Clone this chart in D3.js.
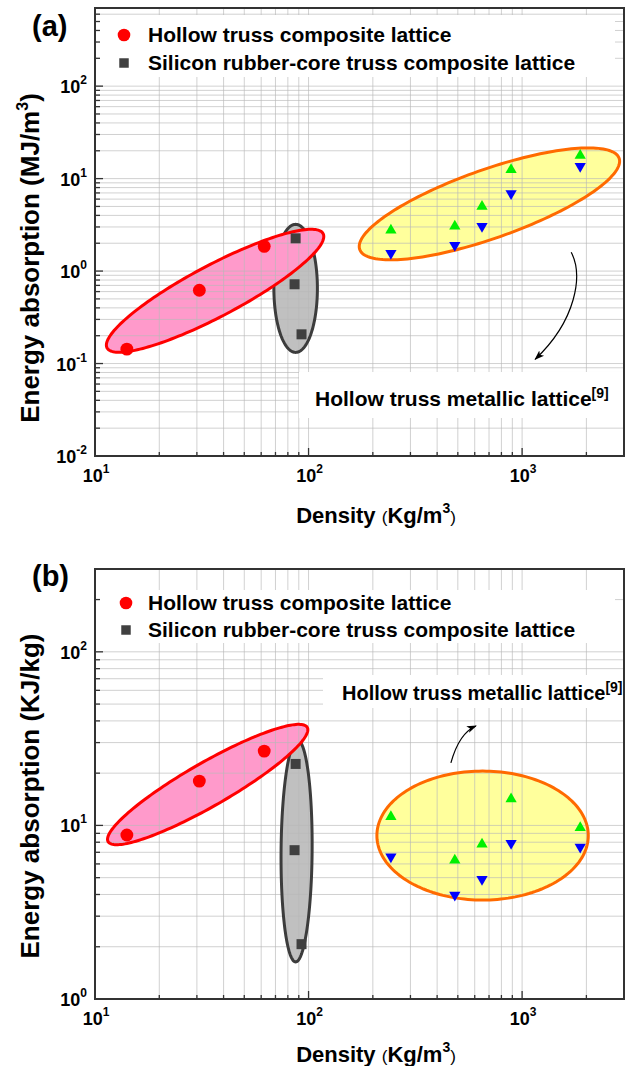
<!DOCTYPE html>
<html>
<head>
<meta charset="utf-8">
<script src="https://cdn.jsdelivr.net/npm/d3@7"></script>
<style>
  body { margin: 0; background: #fff; }
  text { font-family: "Liberation Sans", Arial, sans-serif; font-weight: bold; fill: #000; }
</style>
</head>
<body>
<svg id="fig" width="629" height="1066"></svg>
<script>
// ---- data -------------------------------------------------------------
// density (kg/m^3)
const hollowDensity = [14.1, 30.8, 62];
const rubberDensity = [87, 86, 92.7];
const metalDensity  = [243, 484, 649, 888, 1871];

// (a) energy absorption per volume (MJ/m^3)
const hollowEV    = [0.143, 0.62, 1.85];
const rubberEV    = [2.26, 0.72, 0.207];
const metalEVHigh = [2.76, 3.05, 5.0, 12.5, 17.8];
const metalEVLow  = [1.56, 1.90, 3.05, 6.9, 13.6];

// (b) energy absorption per mass (KJ/kg)
const hollowES    = [8.8, 18.0, 26.8];
const rubberES    = [22.6, 7.2, 2.07];
const metalESHigh = [11.2, 6.3, 7.8, 14.2, 9.7];
const metalESLow  = [6.6, 3.97, 4.9, 7.9, 7.5];

// axis ticks: value and exponent label (10^n)
const xTickValues = [10, 100, 1000];
const xTickExp    = ["1", "2", "3"];
const yTickValuesA = [0.01, 0.1, 1, 10, 100];
const yTickExpA    = ["-2", "-1", "0", "1", "2"];
const yTickValuesB = [1, 10, 100];
const yTickExpB    = ["0", "1", "2"];

// group envelopes: centre and end of the long axis (data units), width ratio
const envelopesA = [
  { group: "rubber", center: [87, 0.65],  end: [87, 3.2],    ratio: 0.34 },
  { group: "hollow", center: [36.5, 0.612], end: [117, 2.54], ratio: 0.21 },
  { group: "metal",  center: [703, 5.33], end: [2846, 16.6], ratio: 0.25 }
];
const envelopesB = [
  { group: "rubber", center: [87.9, 7.12], end: [88.8, 31.0], ratio: 0.14 },
  { group: "hollow", center: [33.7, 17.2], end: [98.6, 36.7], ratio: 0.19 },
  { group: "metal",  center: [653, 8.74],  end: [2041, 8.74], ratio: 0.61 }
];

// curved pointers to the metallic-lattice label (cubic Bezier, data units)
const arrowA = [[1698, 1.6], [1932, 0.90], [1795, 0.294], [1151, 0.111]];
const arrowB = [[464, 22.9], [492, 29.8], [538, 35.1], [608, 37.4]];

const legendLabels = ["Hollow truss composite lattice", "Silicon rubber-core truss composite lattice"];
const metalLabel = "Hollow truss metallic lattice";
const metalRef = "[9]";

// ---- styles -------------------------------------------------------------
const envelopeStyle = {
  rubber: { fill: "#c0c0c0", stroke: "#3c3c3c", width: 3 },
  hollow: { fill: "#ff9acb", stroke: "#ff0000", width: 3 },
  metal:  { fill: "#ffff9c", stroke: "#ff6a00", width: 3 }
};

const svg = d3.select("#fig");
const defs = svg.append("defs");
defs.append("marker")
  .attr("id", "arrowhead")
  .attr("viewBox", "0 0 10 10")
  .attr("refX", 9).attr("refY", 5)
  .attr("markerWidth", 10).attr("markerHeight", 10)
  .attr("markerUnits", "userSpaceOnUse")
  .attr("orient", "auto")
  .append("path")
  .attr("d", "M0,1.5 L10,5 L0,8.5 L2.5,5 Z")
  .attr("fill", "#000");

const X_LEFT = 95, X_RIGHT = 624;
const x = d3.scaleLog().domain([10, 3000]).range([X_LEFT, X_RIGHT]);

const isDecade = v => Math.abs(Math.log10(v) - Math.round(Math.log10(v))) < 1e-9;

function ellipsePoints(cx, cy, a, b, ang) {
  const ca = Math.cos(ang), sa = Math.sin(ang);
  return d3.range(0, 2 * Math.PI, Math.PI / 90).map(t => {
    const u = a * Math.cos(t), v = b * Math.sin(t);
    return [cx + u * ca - v * sa, cy + u * sa + v * ca];
  });
}
const closedLine = d3.line().curve(d3.curveLinearClosed);

function addSup(textSel, base, sup, baseSize, supSize, rise) {
  textSel.append("tspan").attr("font-size", baseSize).text(base);
  textSel.append("tspan").attr("font-size", supSize).attr("dy", -rise).text(sup);
}

function drawPanel(p) {
  const g = svg.append("g");
  const y = d3.scaleLog().domain(p.yDomain).range([p.bottom, p.top]);
  const plotW = X_RIGHT - X_LEFT;

  // envelopes: screen geometry from data
  const env = p.envelopes.map(e => {
    const cx = x(e.center[0]), cy = y(e.center[1]);
    const ex = x(e.end[0]), ey = y(e.end[1]);
    const a = Math.hypot(ex - cx, ey - cy);
    const ang = Math.atan2(ey - cy, ex - cx);
    const pts = ellipsePoints(cx, cy, a, a * e.ratio, ang);
    return { ...e, d: closedLine(pts) };
  });

  // fills
  env.forEach(e => {
    g.append("path").attr("d", e.d).attr("fill", envelopeStyle[e.group].fill);
  });

  // grid
  const gx = x.ticks().filter(v => v > 10 && v < 3000);
  const yDom = p.yDomain;
  const gy = y.ticks().filter(v => v > yDom[0] * 1.0001 && v < yDom[1] * 0.9999);
  const grid = g.append("g").attr("stroke", "#b8b8b8").attr("stroke-opacity", 0.65).attr("stroke-width", 1);
  gx.forEach(v => grid.append("line").attr("x1", x(v)).attr("x2", x(v)).attr("y1", p.top).attr("y2", p.bottom));
  gy.forEach(v => grid.append("line").attr("x1", X_LEFT).attr("x2", X_RIGHT).attr("y1", y(v)).attr("y2", y(v)));

  // outlines (rubber outline hidden where the hollow envelope lies over it)
  const hollow = env.find(e => e.group === "hollow");
  const clipId = "clip-" + p.id;
  defs.append("clipPath").attr("id", clipId)
    .append("path")
    .attr("clip-rule", "evenodd")
    .attr("d", "M0,0H629V1066H0Z" + hollow.d);
  env.forEach(e => {
    const st = envelopeStyle[e.group];
    const path = g.append("path").attr("d", e.d).attr("fill", "none")
      .attr("stroke", st.stroke).attr("stroke-width", st.width);
    if (e.group === "rubber") path.attr("clip-path", `url(#${clipId})`);
  });

  // legend box
  g.append("rect").attr("x", X_LEFT + 2).attr("y", p.legendTop)
    .attr("width", 615 - X_LEFT - 2).attr("height", p.legendH).attr("fill", "#fff");
  const lg = g.append("g");
  lg.append("path").attr("d", d3.symbol(d3.symbolCircle, 125)())
    .attr("transform", `translate(${p.legendX},${p.legendRow1})`).attr("fill", "#ff0000");
  lg.append("path").attr("d", d3.symbol(d3.symbolSquare, 90)())
    .attr("transform", `translate(${p.legendX},${p.legendRow2})`).attr("fill", "#404040");
  legendLabels.forEach((t, i) => {
    lg.append("text").attr("x", 148).attr("y", (i ? p.legendRow2 : p.legendRow1) + 7)
      .attr("font-size", p.legendSize).text(t);
  });

  // metallic lattice label
  g.append("rect").attr("x", p.labelBox[0]).attr("y", p.labelBox[1])
    .attr("width", X_RIGHT - p.labelBox[0]).attr("height", p.labelBox[2]).attr("fill", "#fff");
  const ml = g.append("text").attr("x", p.labelX).attr("y", p.labelY);
  addSup(ml, metalLabel, metalRef, p.labelSize, 14, 8);

  // pointer
  const ap = p.arrow.map(([dx, dy]) => [x(dx), y(dy)]);
  const path = d3.path();
  path.moveTo(...ap[0]);
  path.bezierCurveTo(...ap[1], ...ap[2], ...ap[3]);
  g.append("path").attr("d", path.toString()).attr("fill", "none")
    .attr("stroke", "#000").attr("stroke-width", 1.2).attr("marker-end", "url(#arrowhead)");

  // markers
  const mk = g.append("g");
  hollowDensity.forEach((d, i) => mk.append("path").attr("d", d3.symbol(d3.symbolCircle, 130)())
    .attr("transform", `translate(${x(d)},${y(p.hollow[i])})`).attr("fill", "#ff0000"));
  rubberDensity.forEach((d, i) => mk.append("path").attr("d", d3.symbol(d3.symbolSquare, 100)())
    .attr("transform", `translate(${x(d)},${y(p.rubber[i])})`).attr("fill", "#404040"));
  metalDensity.forEach((d, i) => {
    mk.append("path").attr("d", d3.symbol(d3.symbolTriangle, 55)())
      .attr("transform", `translate(${x(d)},${y(p.hi[i])})`).attr("fill", "#00f000");
    mk.append("path").attr("d", d3.symbol(d3.symbolTriangle, 55)())
      .attr("transform", `translate(${x(d)},${y(p.lo[i])}) rotate(180)`).attr("fill", "#0000ff");
  });

  // ticks
  const tk = g.append("g").attr("stroke", "#333").attr("stroke-width", 1.3);
  x.ticks().filter(v => v > 10 && v < 3000).forEach(v => {
    const L = isDecade(v) ? 8 : 4;
    tk.append("line").attr("x1", x(v)).attr("x2", x(v)).attr("y1", p.bottom).attr("y2", p.bottom - L);
  });
  gy.forEach(v => {
    const L = isDecade(v) ? 8 : 5;
    tk.append("line").attr("x1", X_LEFT).attr("x2", X_LEFT + L).attr("y1", y(v)).attr("y2", y(v));
  });

  // frame
  g.append("rect").attr("x", X_LEFT).attr("y", p.top).attr("width", plotW)
    .attr("height", p.bottom - p.top).attr("fill", "none").attr("stroke", "#333").attr("stroke-width", 2);

  // tick labels
  xTickValues.forEach((v, i) => {
    const t = g.append("text").attr("x", x(v) + 1).attr("y", p.bottom + 26).attr("text-anchor", "middle");
    addSup(t, "10", xTickExp[i], 18, 12, 9);
  });
  p.yTicks.forEach((v, i) => {
    const t = g.append("text").attr("x", 87).attr("y", y(v) + 7).attr("text-anchor", "end");
    addSup(t, "10", p.yExp[i], 18, 12, 9);
  });

  // axis titles
  const yt = g.append("text").attr("transform", `translate(39,${p.yTitleY}) rotate(-90)`)
    .attr("text-anchor", "middle").attr("font-size", 26);
  yt.append("tspan").text(p.yTitle);
  if (p.yTitleSup) {
    yt.append("tspan").attr("font-size", 16).attr("dy", -11).text(p.yTitleSup);
    yt.append("tspan").attr("dy", 11).text(")");
  }
  const xt = g.append("text").attr("x", 376).attr("y", p.xTitleY).attr("text-anchor", "middle").attr("font-size", 22);
  xt.append("tspan").text("Density ");
  xt.append("tspan").attr("font-size", 17).attr("font-weight", "normal").text("(");
  xt.append("tspan").text("Kg/m");
  xt.append("tspan").attr("font-size", 14).attr("dy", -10).text("3");
  xt.append("tspan").attr("font-size", 17).attr("font-weight", "normal").attr("dy", 10).text(")");

  // panel tag
  g.append("text").attr("x", 32).attr("y", p.tagY).attr("font-size", 29).text(p.tag);
}

drawPanel({
  id: "a", tag: "(a)", tagY: 36, top: 8, bottom: 456, yDomain: [0.01, 700],
  yTicks: yTickValuesA, yExp: yTickExpA,
  hollow: hollowEV, rubber: rubberEV, hi: metalEVHigh, lo: metalEVLow,
  envelopes: envelopesA, arrow: arrowA,
  legendTop: 15, legendH: 62, legendX: 124, legendRow1: 35, legendRow2: 63, legendSize: 21,
  labelBox: [299, 372, 46], labelX: 315, labelY: 406, labelSize: 21,
  yTitle: "Energy absorption (MJ/m", yTitleSup: "3", yTitleY: 258, xTitleY: 523
});
drawPanel({
  id: "b", tag: "(b)", tagY: 586, top: 569, bottom: 999, yDomain: [1, 300],
  yTicks: yTickValuesB, yExp: yTickExpB,
  hollow: hollowES, rubber: rubberES, hi: metalESHigh, lo: metalESLow,
  envelopes: envelopesB, arrow: arrowB,
  legendTop: 590, legendH: 53, legendX: 126, legendRow1: 603, legendRow2: 630, legendSize: 21,
  labelBox: [323, 675, 33], labelX: 342, labelY: 700, labelSize: 20,
  yTitle: "Energy absorption (KJ/kg)", yTitleSup: null, yTitleY: 796, xTitleY: 1062
});
</script>
</body>
</html>
